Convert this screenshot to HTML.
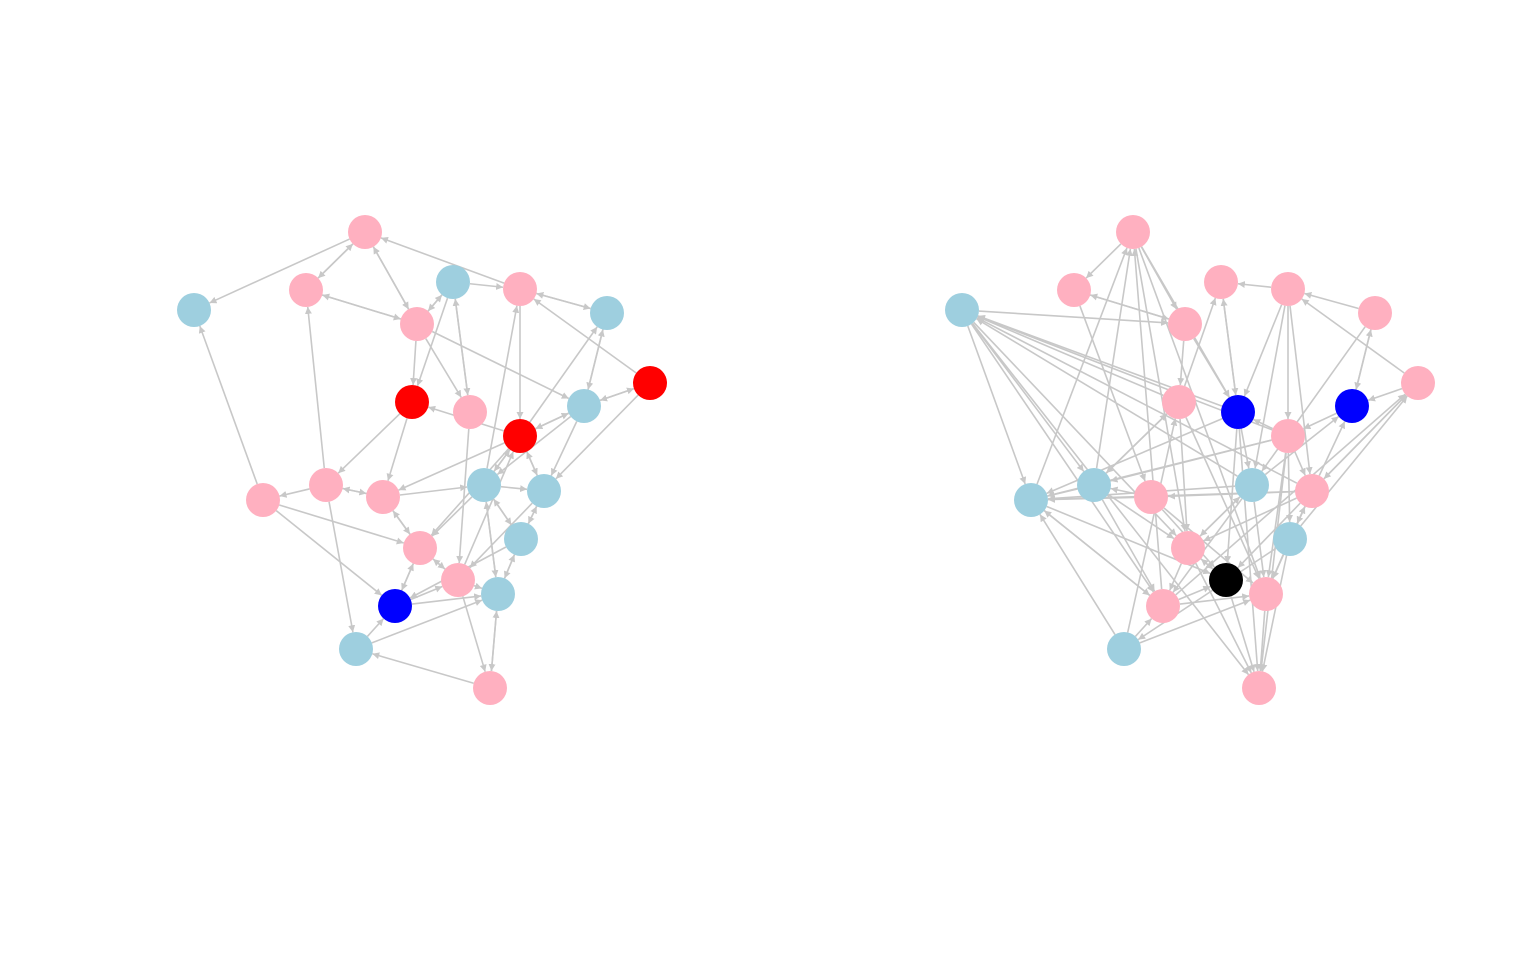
<!DOCTYPE html>
<html><head><meta charset="utf-8"><style>
html,body{margin:0;padding:0;background:#fff;}
svg{display:block;}
</style></head><body>
<svg id="chart" width="1536" height="960" viewBox="0 0 1536 960" xmlns="http://www.w3.org/2000/svg">
<defs><marker id="arr" viewBox="0 0 10 10" refX="10" refY="5" markerWidth="7" markerHeight="7" orient="auto" markerUnits="userSpaceOnUse"><path d="M0,0 L10,5 L0,10 z" fill="#c8c8c8"/></marker></defs>
<g id="left"></g>
<g id="right"></g>
</svg>
<script>
const leftNodeX=[365,306,194,453,520,607,417,650,412,470,584,520,326,263,383,484,544,420,521,458,498,395,356,490];
const leftNodeY=[232,290,310,282,289,313,324,383,402,412,406,436,485,500,497,485,491,548,539,580,594,606,649,688];
const leftNodeColor=["#ffb0c0","#ffb0c0","#9ecfdf","#9ecfdf","#ffb0c0","#9ecfdf","#ffb0c0","#ff0000","#ff0000","#ffb0c0","#9ecfdf","#ff0000","#ffb0c0","#ffb0c0","#ffb0c0","#9ecfdf","#9ecfdf","#ffb0c0","#9ecfdf","#ffb0c0","#9ecfdf","#0000ff","#9ecfdf","#ffb0c0"];
const leftEdges=[[0,2],[0,1],[1,0],[0,6],[6,0],[4,0],[1,6],[6,1],[3,6],[6,3],[3,4],[3,8],[9,3],[3,9],[4,5],[5,4],[4,11],[15,4],[6,8],[6,10],[5,10],[10,5],[11,5],[7,4],[7,10],[10,7],[7,16],[8,12],[8,14],[11,8],[6,9],[9,19],[10,11],[11,10],[10,15],[10,16],[11,14],[11,15],[15,11],[11,16],[11,17],[19,11],[12,1],[12,13],[12,14],[14,12],[12,22],[13,2],[13,17],[13,21],[14,15],[14,17],[17,14],[15,17],[15,18],[18,15],[15,20],[20,15],[16,18],[16,19],[15,16],[17,19],[19,17],[17,21],[21,17],[18,20],[20,18],[18,21],[19,20],[19,23],[20,23],[23,20],[21,20],[21,19],[22,21],[22,20],[23,22],[16,11],[18,16]];
const rightNodeX=[1133,1074,962,1221,1288,1375,1185,1418,1179,1238,1352,1288,1094,1031,1151,1252,1312,1188,1290,1226,1266,1163,1124,1259];
const rightNodeY=[232,290,310,282,289,313,324,383,402,412,406,436,485,500,497,485,491,548,539,580,594,606,649,688];
const rightNodeColor=["#ffb0c0","#ffb0c0","#9ecfdf","#ffb0c0","#ffb0c0","#ffb0c0","#ffb0c0","#ffb0c0","#ffb0c0","#0000ff","#0000ff","#ffb0c0","#9ecfdf","#9ecfdf","#ffb0c0","#9ecfdf","#ffb0c0","#ffb0c0","#9ecfdf","#000000","#ffb0c0","#ffb0c0","#9ecfdf","#ffb0c0"];
const rightEdges=[[0,1],[0,6],[12,0],[13,0],[21,0],[0,9],[0,17],[0,20],[6,1],[1,6],[1,14],[2,6],[2,13],[2,12],[9,2],[8,2],[15,2],[11,2],[16,2],[2,21],[2,17],[2,23],[4,3],[5,4],[7,4],[4,15],[4,11],[4,16],[4,9],[3,9],[9,3],[8,3],[5,10],[10,5],[5,15],[7,10],[7,16],[16,7],[21,7],[18,7],[6,9],[6,8],[8,12],[12,8],[8,17],[8,20],[9,13],[9,15],[9,19],[11,9],[11,12],[11,13],[11,16],[11,18],[11,20],[10,11],[15,10],[16,10],[14,13],[12,13],[15,13],[16,13],[13,21],[21,13],[22,13],[14,12],[16,14],[14,19],[14,20],[15,17],[17,15],[15,20],[15,21],[16,18],[18,16],[16,17],[16,20],[18,20],[18,22],[17,19],[19,17],[17,21],[21,19],[21,20],[22,21],[22,20],[22,8],[20,23],[17,23],[18,23],[11,23],[9,23],[19,23],[12,17],[12,21],[13,19],[16,19]];
const R=17;
function draw(gid,xs,ys,cols,edges,prefix){
  const g=document.getElementById(gid);const ns="http://www.w3.org/2000/svg";
  edges.forEach(function(e,i){
    const x1=xs[e[0]],y1=ys[e[0]],x2=xs[e[1]],y2=ys[e[1]];
    const dx=x2-x1,dy=y2-y1,d=Math.hypot(dx,dy)||1;
    const l=document.createElementNS(ns,"line");
    l.setAttribute("x1",x1+dx/d*R);l.setAttribute("y1",y1+dy/d*R);
    l.setAttribute("x2",x2-dx/d*R);l.setAttribute("y2",y2-dy/d*R);
    l.setAttribute("stroke","#c8c8c8");l.setAttribute("stroke-width","1.6");
    l.setAttribute("marker-end","url(#arr)");
    
    
    g.appendChild(l);
  });
  xs.forEach(function(x,i){
    const c=document.createElementNS(ns,"circle");
    c.setAttribute("cx",x);c.setAttribute("cy",ys[i]);c.setAttribute("r",R);c.setAttribute("fill",cols[i]);
    
    
    g.appendChild(c);
  });
}
draw("left",leftNodeX,leftNodeY,leftNodeColor,leftEdges,"l");
draw("right",rightNodeX,rightNodeY,rightNodeColor,rightEdges,"r");
</script>
</body></html>
